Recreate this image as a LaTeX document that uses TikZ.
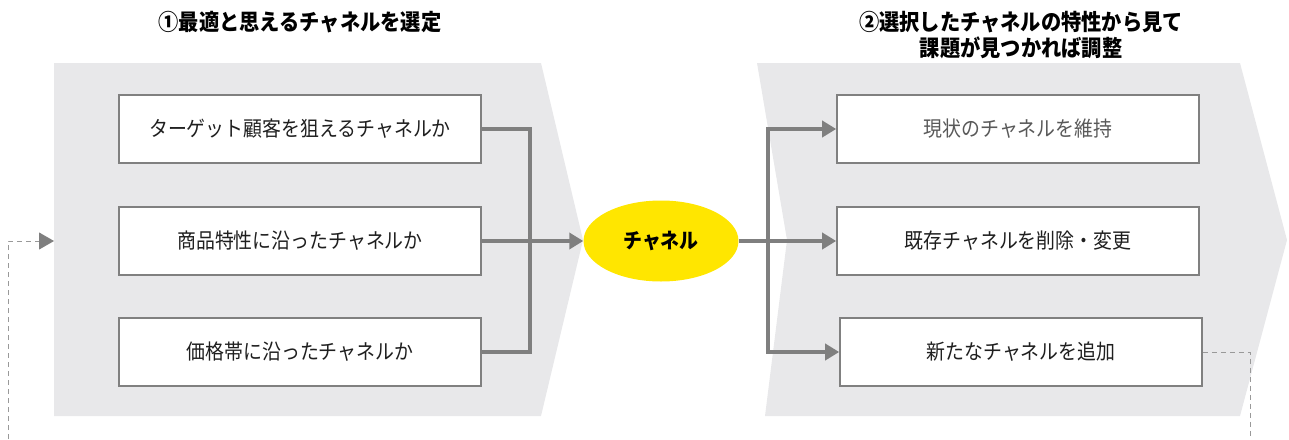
\documentclass[tikz,border=0pt]{standalone}
\usepackage{fontspec}
\setmainfont{Noto Sans CJK JP}[FakeStretch=0.9]
\usetikzlibrary{arrows.meta,shapes.geometric}
\definecolor{panel}{HTML}{E8E8EA}
\definecolor{edge}{HTML}{808080}
\definecolor{conncol}{HTML}{7F7F7F}
\definecolor{dashcol}{HTML}{999999}
\definecolor{yel}{HTML}{FFE600}
\definecolor{txt}{HTML}{1F1F1F}
\definecolor{txtlight}{HTML}{595959}
\tikzset{
  box/.style={draw=edge, line width=1.6pt, fill=white, minimum width=362pt, minimum height=68pt, inner sep=0pt, text=txt, font=\fontsize{21}{25}\selectfont},
  conn/.style={draw=conncol, line width=4.5pt},
  conntip/.style={-{Triangle[length=14pt,width=16pt]}},
  fb/.style={draw=dashcol, line width=1pt, dash pattern=on 5pt off 4pt},
  ttl/.style={font=\fontsize{22.5}{26.5}\selectfont\bfseries, text=black, align=center, inner sep=0pt},
}
\begin{document}
\begin{tikzpicture}[x=1pt,y=-1pt]
\useasboundingbox (0,0) rectangle (1289,439);
% panels
\fill[panel] (54,63) -- (541,63) -- (583,240) -- (541,416) -- (54,416) -- cycle;
\fill[panel] (757,63) -- (1240,63) -- (1287,240) -- (1240,416) -- (765,416) -- (787,240) -- cycle;
% titles
\node[ttl] (t1) at (300,22) {①最適と思えるチャネルを選定};
\node[ttl] (t2) at (1021,35) {②選択したチャネルの特性から見て\\課題が見つかれば調整};
% left boxes
\node[box] (b1) at (300,129) {ターゲット顧客を狙えるチャネルか};
\node[box] (b2) at (300,241) {商品特性に沿ったチャネルか};
\node[box] (b3) at (300,352) {価格帯に沿ったチャネルか};
% ellipse
\node[ellipse, fill=yel, minimum width=155pt, minimum height=81pt, inner sep=0pt, font=\fontsize{21}{25}\selectfont\bfseries] (ch) at (661,241) {チャネル};
% right boxes
\node[box, text=txtlight] (r1) at (1018,129) {現状のチャネルを維持};
\node[box] (r2) at (1018,241) {既存チャネルを削除・変更};
\node[box] (r3) at (1021,352) {新たなチャネルを追加};
% connectors left
\coordinate (jL) at (530,241);
\draw[conn] (b1.east) -| (jL);
\draw[conn] (b3.east) -| (jL);
\draw[conn, conntip] (b2.east) -- (ch.west);
% connectors right
\coordinate (jR) at (768,241);
\draw[conn] (ch.east) -- (jR);
\draw[conn, conntip] (jR) |- (r1.west);
\draw[conn, conntip] (jR) -- (r2.west);
\draw[conn, conntip] (jR) |- (r3.west);
% feedback dashed
\coordinate (fbR) at (1250,439);
\coordinate (fbL) at (8,439);
\coordinate (inL) at (54,241);
\draw[fb] (r3.east) -| (fbR);
\draw[fb, -{Triangle[length=15pt,width=17pt,fill=conncol,color=conncol]}] (fbL) |- (inL);
\end{tikzpicture}
\end{document}
